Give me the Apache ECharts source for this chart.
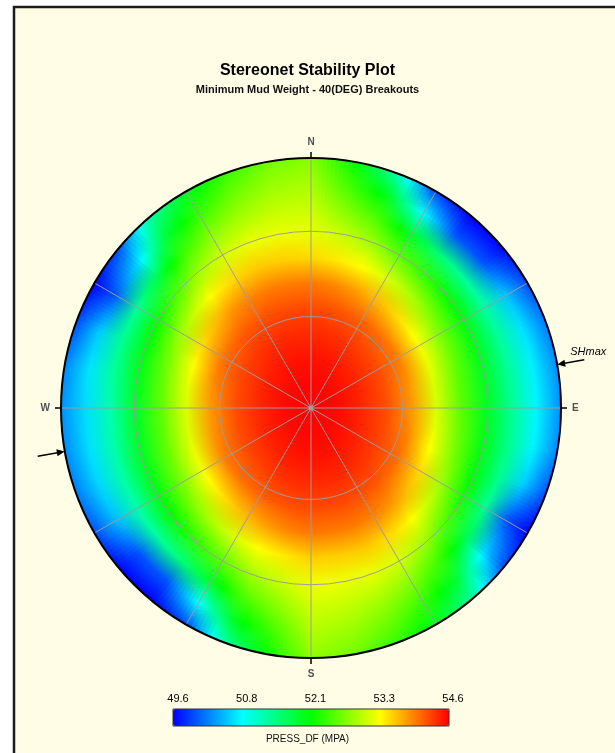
<!DOCTYPE html>
<html><head><meta charset="utf-8">
<script src="https://cdn.jsdelivr.net/npm/echarts@6/dist/echarts.min.js"></script>
<style>html,body{margin:0;padding:0;background:#fff;}#c{width:615px;height:753px;}</style>
</head><body><div id="c"></div>
<script>
// azimuth (deg, clockwise from N) of each row, and normalised stereonet radius of each column
const azimuths = [0,10,20,30,40,50,60,70,80,90,100,110,120,130,140,150,160,170,
                  180,190,200,210,220,230,240,250,260,270,280,290,300,310,320,330,340,350];
const radii = [0,0.1,0.2,0.3,0.4,0.5,0.6,0.7,0.8,0.9,1.0];
// PRESS_DF (MPa), one row per azimuth
const pressRows = [
 [54.6,54.58,54.51,54.40,54.24,54.00,53.54,53.25,53.08,52.92,52.75],
 [54.6,54.58,54.51,54.39,54.22,53.95,53.45,53.09,52.76,52.43,52.15],
 [54.6,54.57,54.50,54.37,54.18,53.85,53.35,52.90,52.46,51.97,51.30],
 [54.6,54.57,54.48,54.33,54.13,53.73,53.17,52.58,51.91,50.85,49.95],
 [54.6,54.57,54.46,54.30,54.07,53.59,52.98,52.35,51.52,50.00,49.60],
 [54.6,54.56,54.45,54.27,54.02,53.42,52.79,52.16,51.35,50.00,49.62],
 [54.6,54.56,54.44,54.25,53.98,53.29,52.66,52.03,51.31,50.55,49.95],
 [54.6,54.56,54.43,54.23,53.92,53.23,52.60,51.98,51.35,50.72,50.20],
 [54.6,54.56,54.42,54.22,53.86,53.16,52.54,51.93,51.36,50.78,50.28],
 [54.6,54.56,54.42,54.22,53.86,53.16,52.54,51.94,51.39,50.80,50.30],
 [54.6,54.56,54.43,54.23,53.90,53.23,52.60,51.99,51.42,50.80,50.26],
 [54.6,54.56,54.44,54.25,53.98,53.35,52.69,52.04,51.41,50.62,50.00],
 [54.6,54.57,54.45,54.28,54.05,53.53,52.86,52.17,51.38,50.00,49.60],
 [54.6,54.57,54.47,54.32,54.10,53.68,53.10,52.48,51.74,50.65,50.00],
 [54.6,54.57,54.49,54.36,54.17,53.86,53.40,52.88,52.36,51.83,51.30],
 [54.6,54.58,54.50,54.38,54.20,53.96,53.55,53.15,52.75,52.34,51.95],
 [54.6,54.58,54.51,54.40,54.24,54.00,53.61,53.25,52.95,52.65,52.35],
 [54.6,54.58,54.51,54.40,54.24,54.00,53.59,53.27,53.06,52.86,52.65],
 [54.6,54.58,54.51,54.40,54.24,54.00,53.58,53.28,53.12,52.96,52.80],
 [54.6,54.58,54.51,54.39,54.22,53.95,53.46,53.10,52.78,52.45,52.18],
 [54.6,54.57,54.50,54.37,54.18,53.85,53.36,52.92,52.48,51.98,51.35],
 [54.6,54.57,54.48,54.33,54.13,53.73,53.18,52.60,51.92,50.88,49.98],
 [54.6,54.57,54.46,54.30,54.07,53.59,52.99,52.36,51.52,50.00,49.60],
 [54.6,54.56,54.45,54.27,54.02,53.42,52.80,52.16,51.33,50.00,49.62],
 [54.6,54.56,54.44,54.25,53.98,53.30,52.66,52.02,51.28,50.52,49.98],
 [54.6,54.56,54.43,54.23,53.92,53.23,52.60,51.96,51.30,50.66,50.20],
 [54.6,54.56,54.42,54.22,53.87,53.18,52.56,51.92,51.28,50.70,50.28],
 [54.6,54.56,54.42,54.22,53.86,53.18,52.56,51.90,51.25,50.68,50.30],
 [54.6,54.56,54.43,54.23,53.90,53.23,52.60,51.97,51.35,50.72,50.26],
 [54.6,54.56,54.44,54.25,53.98,53.35,52.69,52.04,51.40,50.60,49.98],
 [54.6,54.57,54.45,54.28,54.05,53.53,52.86,52.17,51.38,50.02,49.60],
 [54.6,54.57,54.47,54.32,54.10,53.68,53.10,52.48,51.74,50.66,50.02],
 [54.6,54.57,54.49,54.36,54.17,53.86,53.40,52.88,52.36,51.83,51.30],
 [54.6,54.58,54.50,54.38,54.20,53.96,53.55,53.15,52.75,52.34,51.95],
 [54.6,54.58,54.51,54.40,54.24,54.00,53.61,53.25,52.95,52.65,52.35],
 [54.6,54.58,54.51,54.40,54.24,54.00,53.59,53.27,53.06,52.86,52.65]
];
const dipCircleRadii = [0.366, 0.707];          // 30° and 60° circles
const colorTickLabels = ['49.6','50.8','52.1','53.3','54.6'];
const jetColors = ['#0000ff','#00ffff','#00ff00','#ffff00','#ff0000'];
const cardinalLabels = {0:'N',90:'E',180:'S',270:'W'};
const shmaxAzimuths = [80, 260];
const V_MIN = 49.6, V_MAX = 54.6;

function hexRgb(c){return [parseInt(c.slice(1,3),16),parseInt(c.slice(3,5),16),parseInt(c.slice(5,7),16)];}
function colorOf(v){
  let t=(v-V_MIN)/(V_MAX-V_MIN); t=Math.max(0,Math.min(1,t));
  const s=t*(jetColors.length-1); const i=Math.min(Math.floor(s),jetColors.length-2); const f=s-i;
  const a=hexRgb(jetColors[i]), b=hexRgb(jetColors[i+1]);
  return 'rgb('+a.map((x,k)=>Math.round(x+(b[k]-x)*f)).join(',')+')';
}

const chart = echarts.init(document.getElementById('c'), null, {renderer:'canvas'});
const CX=311, CY=408, R=250;
const FONT='Liberation Sans, Arial, sans-serif';
const AZ_STEP = 10, SUB = 10;

function polarFrame(api, az){
  const c=api.coord([0,az]); const p=api.coord([1,az]);
  return {c, rr:Math.hypot(p[0]-c[0],p[1]-c[1])};
}
// one data item per azimuth row; its sector is shaded towards the neighbouring rows
function renderCell(params, api){
  const az=api.value(1), row=api.value(2);
  const n=pressRows.length;
  const {c, rr}=polarFrame(api, az);
  const children=[];
  for(let s=0;s<SUB;s++){
    const f0=-0.5+s/SUB, f1=-0.5+(s+1)/SUB, fm=(f0+f1)/2;
    const nb = fm<0 ? (row-1+n)%n : (row+1)%n;
    const w=Math.abs(fm);
    const a0=api.coord([1,az+f0*AZ_STEP-0.25]), a1=api.coord([1,az+f1*AZ_STEP+0.25]);
    let sa=Math.atan2(a0[1]-c[1],a0[0]-c[0]), ea=Math.atan2(a1[1]-c[1],a1[0]-c[0]);
    if(ea<sa) ea+=Math.PI*2;
    const stops=radii.map((r,k)=>({offset:r, color:colorOf(pressRows[row][k]*(1-w)+pressRows[nb][k]*w)}));
    children.push({type:'sector', shape:{cx:c[0],cy:c[1],r0:0,r:rr,startAngle:sa,endAngle:ea,clockwise:true},
      style:{fill:{type:'radial', x:c[0], y:c[1], r:rr, global:true, colorStops:stops}}});
  }
  return {type:'group', children};
}
// backing disc (mean radial profile) so no seams show between the thin sectors near the pole
function renderBacking(params, api){
  const {c, rr}=polarFrame(api, 0);
  const stops=radii.map((r,k)=>({offset:r, color:colorOf(pressRows.reduce((s,row)=>s+row[k],0)/pressRows.length)}));
  return {type:'circle', shape:{cx:c[0],cy:c[1],r:rr-0.5},
    style:{fill:{type:'radial', x:c[0], y:c[1], r:rr, global:true, colorStops:stops}}};
}

const option = {
  backgroundColor:'#ffffff',
  animation:false,
  graphic:[
    {type:'rect', z:-100, silent:true, shape:{x:14,y:7,width:700,height:800}, style:{fill:'#fffde6', stroke:'#1c1c1c', lineWidth:2.5}},
    {type:'text', z:50, left:'center', top:734, style:{text:'PRESS_DF (MPA)', font:'10px '+FONT, fill:'#111'}}
  ],
  title:{
    text:'Stereonet Stability Plot',
    subtext:'Minimum Mud Weight - 40(DEG) Breakouts',
    left:'center', top:58, itemGap:5,
    textStyle:{fontSize:16, fontWeight:'bold', color:'#000', fontFamily:FONT},
    subtextStyle:{fontSize:11, fontWeight:'bold', color:'#111', fontFamily:'Liberation Sans Narrow, Liberation Sans, Arial'}
  },
  polar:[{center:[CX,CY], radius:R},{center:[CX,CY], radius:R}],
  angleAxis:[
    {polarIndex:0, type:'value', min:0, max:360, interval:30, startAngle:90, clockwise:true, z:5,
     axisLine:{show:true, lineStyle:{color:'#000', width:2}}, axisTick:{show:false}, axisLabel:{show:false},
     splitLine:{show:true, lineStyle:{color:'#9c9c9c', width:1}}},
    {polarIndex:1, type:'value', min:0, max:360, interval:90, startAngle:90, clockwise:true, z:6,
     axisLine:{show:false}, axisTick:{show:true, length:6, lineStyle:{color:'#000', width:1.5}},
     axisLabel:{show:true, margin:11, fontSize:10, fontWeight:'bold', color:'#505050', fontFamily:FONT,
       formatter:v=>cardinalLabels[v]||''},
     splitLine:{show:false}}
  ],
  radiusAxis:[
    {polarIndex:0, type:'value', min:0, max:1, axisLine:{show:false}, axisTick:{show:false}, axisLabel:{show:false}, splitLine:{show:false}},
    {polarIndex:1, type:'value', min:0, max:1, axisLine:{show:false}, axisTick:{show:false}, axisLabel:{show:false}, splitLine:{show:false}}
  ],
  grid:[
    {left:173, top:709, width:276, height:17, show:true, borderColor:'#333', borderWidth:1, backgroundColor:'transparent', z:10},
    {left:178, top:709, width:275, height:17, show:false}
  ],
  xAxis:[
    {gridIndex:0, type:'value', min:0, max:1, show:false},
    {gridIndex:1, type:'category', data:colorTickLabels, boundaryGap:false, position:'top',
     axisLine:{show:false}, axisTick:{show:false}, splitLine:{show:false},
     axisLabel:{interval:0, fontSize:11, margin:5, color:'#000', fontFamily:FONT}}
  ],
  yAxis:[{gridIndex:0, type:'value', show:false},{gridIndex:1, type:'value', show:false}],
  visualMap:{
    type:'continuous', min:V_MIN, max:V_MAX, orient:'horizontal', left:173, top:709,
    itemWidth:17, itemHeight:276, calculable:false, text:['',''], padding:0, hoverLink:false,
    inRange:{color:jetColors}, seriesIndex:1, dimension:3
  },
  series:[
    {
      type:'custom', coordinateSystem:'polar', polarIndex:0, z:0, silent:true,
      data:[[1,0]], renderItem: renderBacking
    },
    {
      type:'custom', coordinateSystem:'polar', polarIndex:0, z:1, silent:true,
      data: azimuths.map((a,i)=>[1, a, i, pressRows[i][10]]),
      renderItem: renderCell
    },
    {
      type:'custom', coordinateSystem:'polar', polarIndex:0, z:3, silent:true,
      data: dipCircleRadii.map(r=>[r,0]),
      renderItem:function(params, api){
        const c=api.coord([0,0]); const p=api.coord([api.value(0),0]);
        return {type:'circle', shape:{cx:c[0],cy:c[1],r:Math.hypot(p[0]-c[0],p[1]-c[1])},
          style:{fill:null, stroke:'#9c9c9c', lineWidth:1}};
      }
    },
    {
      type:'scatter', coordinateSystem:'polar', polarIndex:0, z:7, silent:true,
      data:[[0,0]], symbolSize:5, itemStyle:{color:'#a0a0a0'}
    },
    {
      type:'custom', coordinateSystem:'polar', polarIndex:0, z:8, silent:true,
      data: shmaxAzimuths.map(a=>[1,a]),
      renderItem:function(params, api){
        const az=api.value(1);
        const tip=api.coord([1.0,az]), tail=api.coord([1.11,az]);
        const dx=tip[0]-tail[0], dy=tip[1]-tail[1], L=Math.hypot(dx,dy), ux=dx/L, uy=dy/L;
        const hl=8, hw=3.5;
        const base=[tip[0]-ux*hl, tip[1]-uy*hl];
        const ch=[
          {type:'line', shape:{x1:tail[0],y1:tail[1],x2:base[0]+ux*2,y2:base[1]+uy*2}, style:{stroke:'#000', lineWidth:1.5}},
          {type:'polygon', shape:{points:[tip,[base[0]-uy*hw,base[1]+ux*hw],[base[0]+uy*hw,base[1]-ux*hw]]}, style:{fill:'#000'}}
        ];
        if(params.dataIndex===0){
          ch.push({type:'text', style:{text:'SHmax', x:tail[0]+4, y:tail[1]-8, align:'center', verticalAlign:'middle',
            font:'italic 11px '+FONT, fill:'#000'}});
        }
        return {type:'group', children:ch};
      }
    }
  ]
};
chart.setOption(option);
</script></body></html>
